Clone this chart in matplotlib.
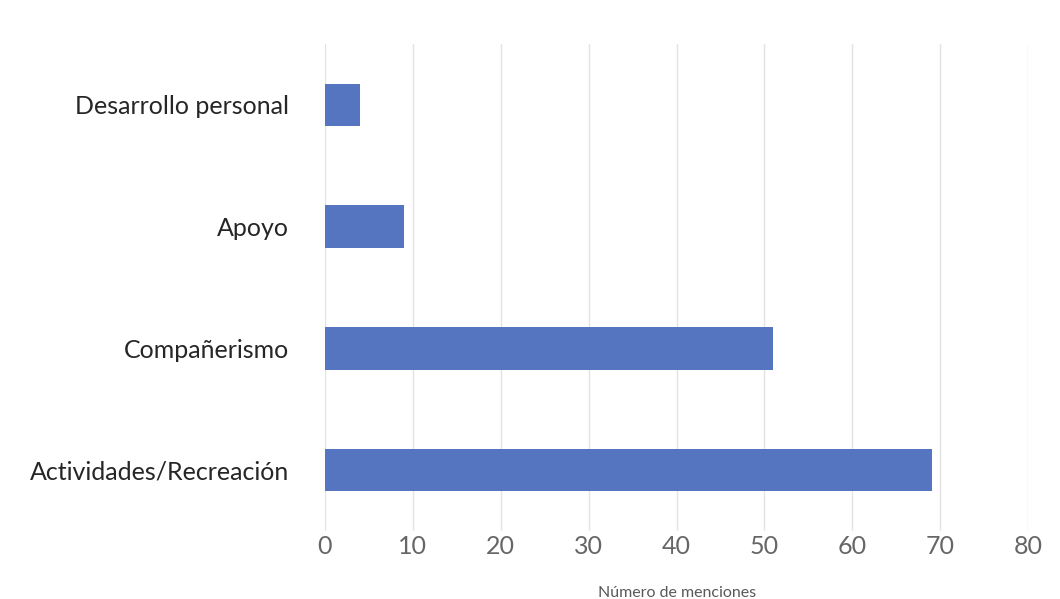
import matplotlib.pyplot as plt

# Menciones por categoría
categorias = ["Actividades/Recreación", "Compañerismo", "Apoyo", "Desarrollo personal"]
menciones = [69, 51, 9, 4]
ticks_x = [0, 10, 20, 30, 40, 50, 60, 70, 80]

plt.rcParams['font.family'] = ['Lato', 'DejaVu Sans']

fig = plt.figure(figsize=(10.6, 5.99), dpi=100)
ax = fig.add_axes([0.3066, 0.1135, 0.6634, 0.813])

ax.barh(range(len(categorias)), menciones, height=0.35, color='#5575C0', zorder=3)

ax.set_yticks(range(len(categorias)))
ax.set_yticklabels(categorias, fontsize=18, color='#262626')
ax.set_ylim(-0.5, len(categorias) - 0.5)

ax.set_xlim(0, 80)
ax.set_xticks(ticks_x)
ax.set_xticklabels([str(t) for t in ticks_x], fontsize=18, color='#666666')
ax.set_xlabel('Número de menciones', fontsize=11.5, color='#595959', labelpad=20)

ax.grid(axis='x', color='#e3e3e3', linewidth=1, zorder=0)
ax.tick_params(axis='x', length=0, pad=3)
ax.tick_params(axis='y', length=0, pad=26)
for s in ax.spines.values():
    s.set_visible(False)

fig.savefig('out.png', dpi=100)
